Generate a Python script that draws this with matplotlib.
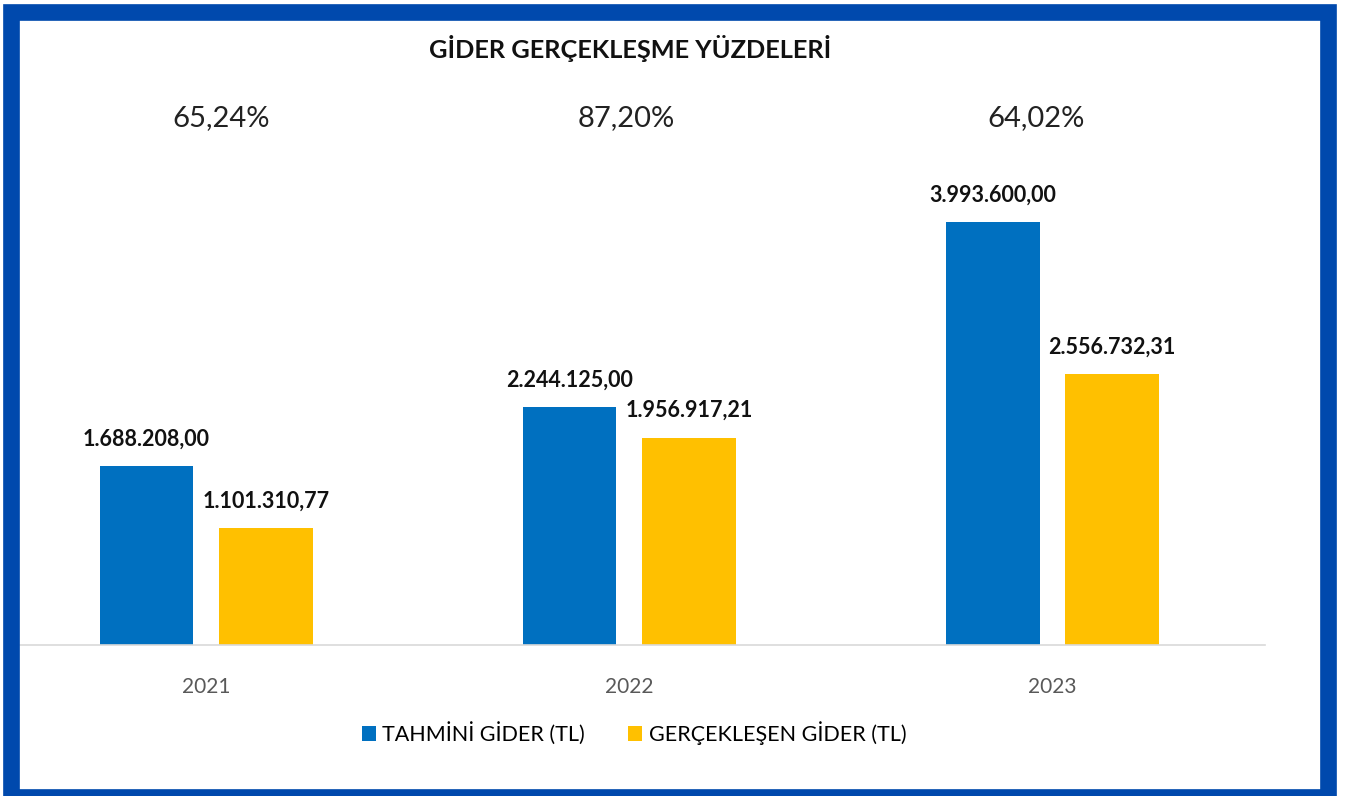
import matplotlib
matplotlib.use('Agg')
import matplotlib.pyplot as plt
from matplotlib.patches import Rectangle
import numpy as np

plt.rcParams['font.family'] = ['Lato', 'DejaVu Sans']

years = ['2021', '2022', '2023']
tahmini = [1688208.00, 2244125.00, 3993600.00]
gerceklesen = [1101310.77, 1956917.21, 2556732.31]
oranlar = ['65,24%', '87,20%', '64,02%']

def tr_fmt(v):
    s = '{:,.2f}'.format(v)
    return s.replace(',', 'X').replace('.', ',').replace('X', '.')

W, H = 1347, 796
fig = plt.figure(figsize=(W / 100, H / 100), dpi=100)

# blue frame (line centred on the rectangle edge, ~16 px thick)
fig.patches.append(Rectangle((10.5 / W, -1 / H), 1317.5 / W, 785 / H, transform=fig.transFigure,
                             facecolor='none', edgecolor='#0049AD', linewidth=12))

ax = fig.add_axes([20 / W, (H - 645) / H, 1245 / W, 500 / H])
x = np.arange(len(years))
w = 0.222
off = 0.141
b1 = ax.bar(x - off, tahmini, w, color='#0070C0', label='TAHMİNİ GİDER (TL)')
b2 = ax.bar(x + off, gerceklesen, w, color='#FFC000', label='GERÇEKLEŞEN GİDER (TL)')

for bars, vals in [(b1, tahmini), (b2, gerceklesen)]:
    for r, v in zip(bars, vals):
        ax.annotate(tr_fmt(v), (r.get_x() + r.get_width() / 2, v), xytext=(0, 12),
                    textcoords='offset points', ha='center', va='bottom',
                    fontsize=15.5, fontweight='bold', color='#111111')

ax.set_xlim(-0.44, 2.503)
ax.set_ylim(0, 500 / 1.059e-4)
ax.set_xticks(x)
ax.set_xticklabels(years, fontsize=15, color='#595959')
ax.tick_params(axis='x', length=0, pad=23)
ax.set_yticks([])
for s in ['top', 'right', 'left']:
    ax.spines[s].set_visible(False)
ax.spines['bottom'].set_color('#D9D9D9')
ax.spines['bottom'].set_linewidth(1.2)

fig.text(630 / W, 1 - 48 / H, 'GİDER GERÇEKLEŞME YÜZDELERİ', ha='center', va='center',
         fontsize=18.3, fontweight='bold', color='#111111')

pct_x = [221, 626, 1036]
for px, t in zip(pct_x, oranlar):
    fig.text(px / W, 1 - 118 / H, t, ha='center', va='center', fontsize=21, color='#222222')

fig.legend(loc='center', bbox_to_anchor=(634 / W, 1 - 733 / H), ncol=2, frameon=False,
           fontsize=15.5, handlelength=0.65, handleheight=0.65, handletextpad=0.3,
           columnspacing=2.0)

fig.savefig('out.png', dpi=100, facecolor='white')
